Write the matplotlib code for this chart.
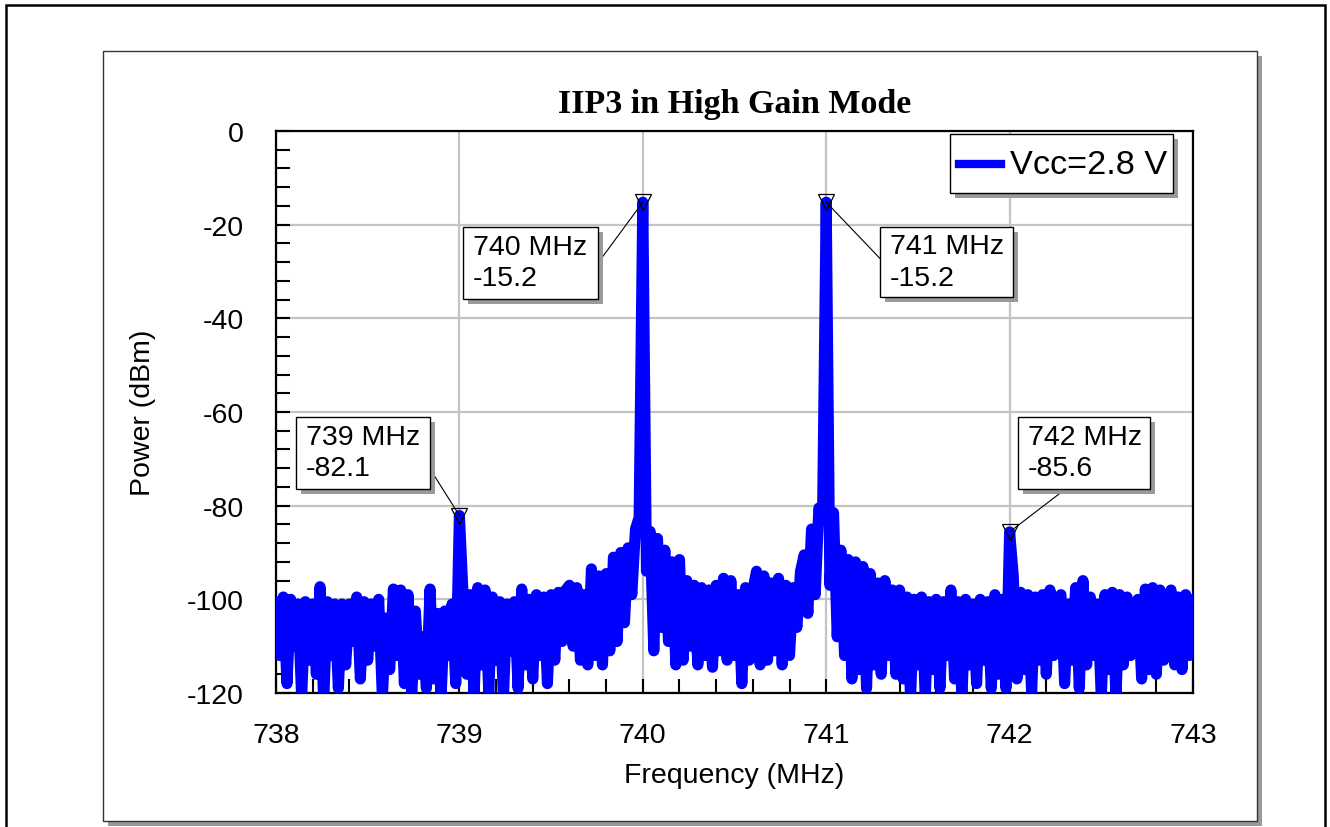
import numpy as np
import matplotlib
matplotlib.use("Agg")
import matplotlib.pyplot as plt
from matplotlib.patches import Rectangle, ConnectionPatch
from matplotlib.ticker import MultipleLocator

plt.rcParams['font.family'] = ['Liberation Sans', 'DejaVu Sans']
plt.rcParams['axes.unicode_minus'] = False

# spectrum analyser trace, 738-743 MHz in 20 kHz steps (one row per 0.2 MHz)
freq_start = 738.0
freq_step = 0.02
power_dbm = [
    -100.5, -112, -99.5, -118, -100, -110, -101, -121, -100.5, -113,
    -101, -116, -97.3, -122, -100.5, -112, -101, -119, -101, -114,
    -101, -109, -99.5, -117, -100.5, -113, -101, -110, -100, -121,
    -104, -115, -97.8, -112, -98, -118, -99, -121, -102.5, -116,
    -108, -119, -97.8, -117, -103, -121, -102.5, -112, -101, -118,
    -82.1, -99, -116, -99, -121, -97.5, -114, -98, -120, -99.5,
    -113, -100.5, -121, -101, -111, -100.5, -119, -97.8, -114, -100,
    -117, -99, -112, -99.5, -118, -99, -113, -98.5, -109, -98,
    -97, -110, -97.5, -113, -99, -114, -93.5, -112, -95, -114,
    -94.5, -111, -91, -109, -90, -105, -89, -99, -85, -82.5,
    -15.2, -94, -85.5, -111, -87, -106, -89.5, -109, -92, -114,
    -91.5, -113, -96, -110, -97, -114, -97.5, -112, -98, -114.5,
    -97, -111, -95.5, -113, -96, -112, -99, -118, -97.5, -113,
    -98, -94, -114, -95, -113, -96.5, -111, -95.5, -114, -97,
    -112, -97.5, -106, -94, -90.5, -103, -85, -99, -80.5, -83,
    -15.2, -97, -81.5, -108, -89.5, -112, -91.5, -117, -92, -115,
    -93, -119, -94.5, -114, -96.5, -116, -96, -112, -98, -116,
    -98, -117, -99.5, -121, -100, -114, -99.5, -121, -100.5, -115,
    -100, -119, -100.5, -112, -98, -117, -100.5, -121, -100, -114,
    -101, -118, -100, -113, -100.5, -119, -99, -116, -100, -119,
    -85.6, -95, -117, -98.5, -115, -99, -120, -99.5, -113, -99,
    -116, -98, -112, -100, -99, -118, -101, -113, -97.5, -119,
    -96, -114, -99.5, -112, -101, -121, -99, -115, -98.5, -121,
    -99, -114, -99.5, -112, -101, -100, -117, -97.8, -115, -97.5,
    -116, -98, -113, -101, -98, -114, -99.5, -115, -99, -112,
    -100,
]
freq_mhz = freq_start + freq_step * np.arange(len(power_dbm))

# marked tones and intermod products
peak_freqs = [739, 740, 741, 742]
peak_vals = [-82.1, -15.2, -15.2, -85.6]
# callout boxes in figure pixels (left, top from image top, width, height)
# and the point on the box edge where the leader starts (fraction of box)
boxes = [
    (296, 418, 134, 72, (1.0, 0.28)),
    (463, 228, 135, 72, (1.0, 0.5)),
    (880, 228, 133, 70, (0.0, 0.55)),
    (1018, 418, 132, 72, (0.36, 0.0)),
]

W, H = 1330, 828
fig = plt.figure(figsize=(W / 100, H / 100), dpi=100)


def fr(x, y, w, h):
    # image-pixel box (top-left origin) -> figure fraction rect
    return (x / W, (H - y - h) / H, w / W, h / H)


def box_with_shadow(x, y, w, h, off=5, edge='black', lw=1.0, z=5):
    sx, sy, sw, sh = fr(x + off, y + off, w, h)
    fig.add_artist(Rectangle((sx, sy), sw, sh, transform=fig.transFigure,
                             facecolor='#9a9a9a', edgecolor='none', zorder=z))
    bx, by, bw, bh = fr(x, y, w, h)
    fig.add_artist(Rectangle((bx, by), bw, bh, transform=fig.transFigure,
                             facecolor='white', edgecolor=edge, linewidth=lw,
                             zorder=z + 1))


# outer frame and chart panel
ox, oy, ow, oh = fr(6, 6, 1319, 840)
fig.add_artist(Rectangle((ox, oy), ow, oh, transform=fig.transFigure,
                         facecolor='white', edgecolor='black', linewidth=1.8,
                         zorder=-3, clip_on=False))
box_with_shadow(103, 52, 1154, 770, off=5, edge='#333333', lw=1.0, z=-2)

ax = fig.add_axes(fr(276, 132, 917, 562))
ax.plot(freq_mhz, power_dbm, color='#0000ff', linewidth=8,
        solid_joinstyle='round', solid_capstyle='round', zorder=3)
ax.plot(peak_freqs, peak_vals, linestyle='none', marker='v', markersize=12,
        markerfacecolor='none', markeredgecolor='black', markeredgewidth=0.9,
        zorder=4, clip_on=False)

ax.set_xlim(738, 743)
ax.set_ylim(-120, 0)
ax.xaxis.set_major_locator(MultipleLocator(1))
ax.xaxis.set_minor_locator(MultipleLocator(0.2))
ax.yaxis.set_major_locator(MultipleLocator(20))
ax.yaxis.set_minor_locator(MultipleLocator(4))
ax.grid(True, which='major', color='#c4c4c4', linewidth=1.6)
ax.set_axisbelow(True)
ax.tick_params(which='both', direction='in', length=10, width=1.5,
               labelsize=20.5, color='black')
ax.tick_params(axis='y', pad=23)
ax.tick_params(axis='x', pad=21)
for sp in ax.spines.values():
    sp.set_linewidth(1.6)

ax.set_xlabel('Frequency (MHz)', fontsize=20.5)
ax.xaxis.set_label_coords(0.5, (694 - 776) / 562)
ax.xaxis.label.set_va('center')
ax.set_ylabel('Power (dBm)', fontsize=20.5)
ax.yaxis.set_label_coords((143 - 276) / 917, 0.5)
ax.yaxis.label.set_va('center')

fig.text(734.5 / W, 1 - 104 / H, 'IIP3 in High Gain Mode', ha='center',
         va='center', fontsize=24.5, fontweight='bold',
         family=['Liberation Serif', 'DejaVu Serif'])

# legend
box_with_shadow(950, 135, 223, 59, off=5, z=5)
fig.add_artist(plt.Line2D([959 / W, 1001 / W], [1 - 165 / H, 1 - 165 / H],
                          transform=fig.transFigure, color='#0000ff',
                          linewidth=6, zorder=7))
fig.text(1010 / W, 1 - 166 / H, 'Vcc=2.8 V', ha='left', va='center',
         fontsize=24.7, zorder=7)

# peak callouts
for f, v, (bx, by, bw, bh, rel) in zip(peak_freqs, peak_vals, boxes):
    box_with_shadow(bx, by, bw, bh, off=5, z=5)
    fig.text((bx + 10) / W, 1 - (by + bh / 2) / H, f'{f} MHz\n{v}',
             ha='left', va='center', fontsize=20.5, linespacing=1.25,
             zorder=7)
    start = (bx + rel[0] * bw, H - (by + (1 - rel[1]) * bh))
    con = ConnectionPatch(xyA=start, coordsA='figure pixels',
                          xyB=(f, v), coordsB=ax.transData,
                          color='black', linewidth=0.8, zorder=4)
    fig.add_artist(con)

fig.savefig('out.png', dpi=100)
